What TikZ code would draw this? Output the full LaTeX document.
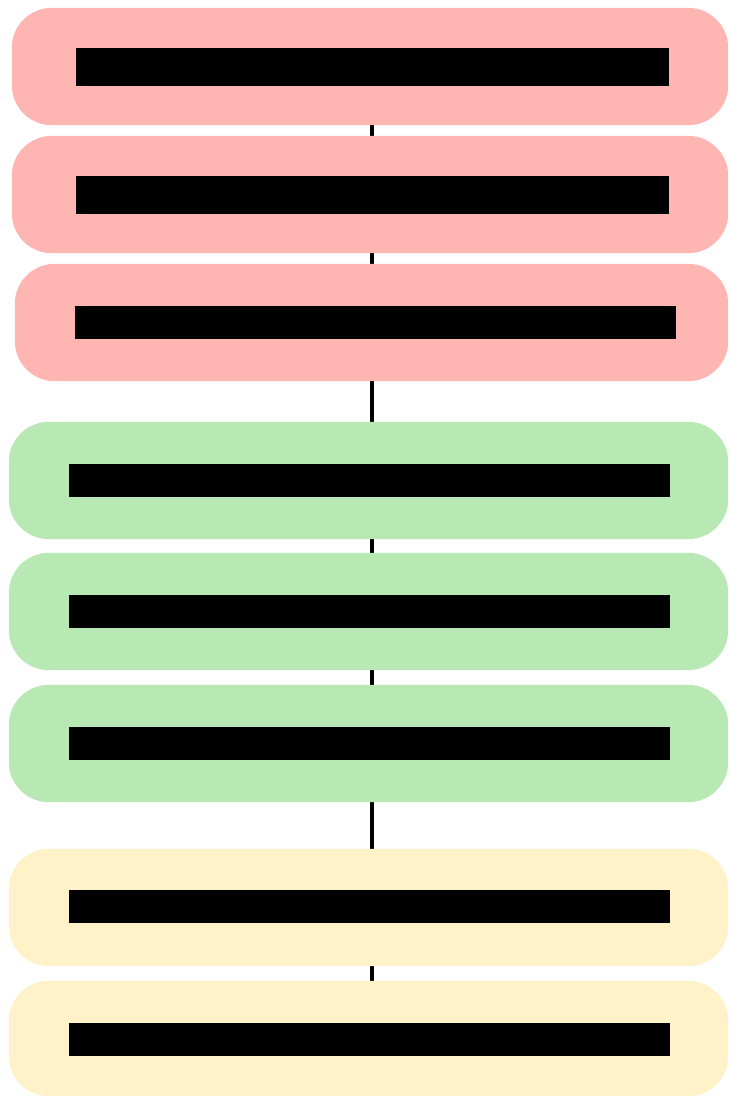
\documentclass[tikz,border=0pt]{standalone}
\usepackage{tikz}
\definecolor{cpink}{HTML}{FFB6B3}
\definecolor{cgreen}{HTML}{B8E9B5}
\definecolor{cyellow}{HTML}{FFF2C8}
\begin{document}
\begin{tikzpicture}[x=1pt,y=-1pt,
  panel/.style={inner sep=0pt, draw=none},
  bar/.style={fill=black, inner sep=0pt, draw=none},
  link/.style={draw=black, line width=4pt}]
\useasboundingbox (0,0) rectangle (729,1096);
\coordinate (axis) at (372,0);
% boxes
\node[panel, minimum width=716pt, minimum height=117pt] (b1) at (370,66.5) {};
\node[panel, minimum width=716pt, minimum height=117pt] (b2) at (370,194.5) {};
\node[panel, minimum width=713pt, minimum height=117pt] (b3) at (371.5,322.5) {};
\node[panel, minimum width=719pt, minimum height=117pt] (b4) at (368.5,480.5) {};
\node[panel, minimum width=719pt, minimum height=117pt] (b5) at (368.5,611.5) {};
\node[panel, minimum width=719pt, minimum height=117pt] (b6) at (368.5,743.5) {};
\node[panel, minimum width=719pt, minimum height=117pt] (b7) at (368.5,907.5) {};
\node[panel, minimum width=719pt, minimum height=115pt] (b8) at (368.5,1038.5) {};
% connectors
\draw[link] (b1.south -| axis) -- (b2.north -| axis);
\draw[link] (b2.south -| axis) -- (b3.north -| axis);
\draw[link] (b3.south -| axis) -- (b4.north -| axis);
\draw[link] (b4.south -| axis) -- (b5.north -| axis);
\draw[link] (b5.south -| axis) -- (b6.north -| axis);
\draw[link] (b6.south -| axis) -- (b7.north -| axis);
\draw[link] (b7.south -| axis) -- (b8.north -| axis);
% fills
\foreach \n/\c in {b1/cpink,b2/cpink,b3/cpink,b4/cgreen,b5/cgreen,b6/cgreen,b7/cyellow,b8/cyellow}
  \fill[\c, rounded corners=40pt] (\n.north west) rectangle (\n.south east);
% bars
\node[bar, minimum width=593pt, minimum height=38pt] (t1) at (372.5,67) {};
\node[bar, minimum width=593pt, minimum height=38pt] (t2) at (372.5,195) {};
\node[bar, minimum width=601pt, minimum height=33pt] (t3) at (375.5,322.5) {};
\node[bar, minimum width=601pt, minimum height=33pt] (t4) at (369.5,480.5) {};
\node[bar, minimum width=601pt, minimum height=33pt] (t5) at (369.5,611.5) {};
\node[bar, minimum width=601pt, minimum height=33pt] (t6) at (369.5,743.5) {};
\node[bar, minimum width=601pt, minimum height=33pt] (t7) at (369.5,906.5) {};
\node[bar, minimum width=601pt, minimum height=33pt] (t8) at (369.5,1039.5) {};
\end{tikzpicture}
\end{document}
